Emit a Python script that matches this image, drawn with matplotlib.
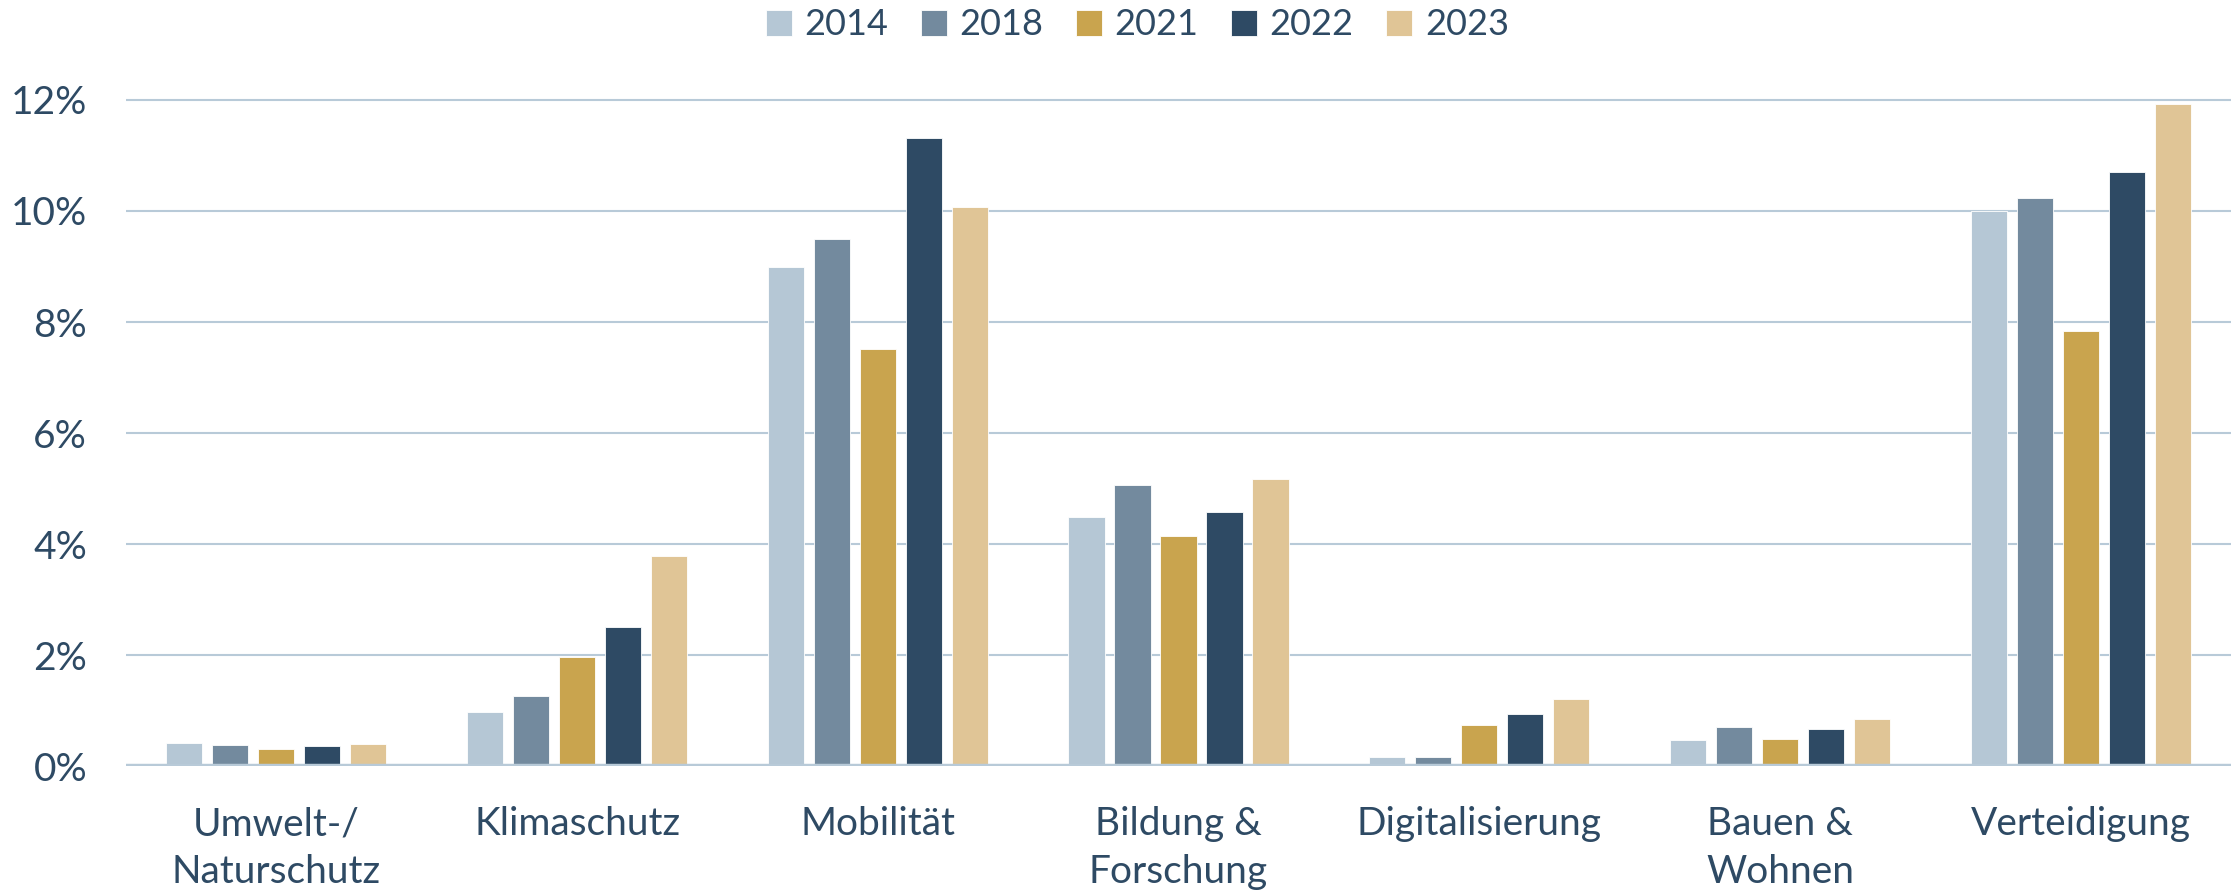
import numpy as np
import matplotlib.pyplot as plt

plt.rcParams['font.family'] = ['Lato', 'DejaVu Sans']

categories = ['Umwelt-/\nNaturschutz', 'Klimaschutz', 'Mobilität', 'Bildung &\nForschung',
              'Digitalisierung', 'Bauen &\nWohnen', 'Verteidigung']
years = ['2014', '2018', '2021', '2022', '2023']

v2014 = [0.41, 0.97, 8.99, 4.48, 0.16, 0.46, 10.00]
v2018 = [0.37, 1.27, 9.50, 5.07, 0.16, 0.70, 10.24]
v2021 = [0.30, 1.96, 7.52, 4.15, 0.74, 0.48, 7.83]
v2022 = [0.36, 2.50, 11.31, 4.58, 0.94, 0.67, 10.70]
v2023 = [0.39, 3.78, 10.07, 5.18, 1.20, 0.84, 11.93]

series = [v2014, v2018, v2021, v2022, v2023]
colors = ['#B5C7D5', '#738A9E', '#C9A44E', '#2E4A64', '#E0C596']
text_col = '#2E4A64'
grid_col = '#B8CAD8'

fig = plt.figure(figsize=(22.39, 8.93), dpi=100)
ax = fig.add_axes([0.0563, 0.1422, 0.9401, 0.7769])

x = np.arange(len(categories))
pitch = 0.153
width = 0.12
for i, (vals, col, yr) in enumerate(zip(series, colors, years)):
    ax.bar(x + (i - 2) * pitch, vals, width, color=col, label=yr,
           edgecolor='white', linewidth=0.6, zorder=3)

ax.set_xlim(-0.5, 6.5)
ax.set_ylim(0, 12.5)
ax.set_yticks(np.arange(0, 13, 2))
ax.set_yticklabels([f'{t}%' for t in range(0, 13, 2)])
ax.set_xticks(x)
ax.set_xticklabels(categories, linespacing=1.42)

for y in range(2, 13, 2):
    ax.axhline(y, color=grid_col, linewidth=1.5, zorder=1)
ax.axhline(0, color=grid_col, linewidth=3.2, zorder=4)

for s in ax.spines.values():
    s.set_visible(False)
ax.tick_params(axis='both', length=0, colors=text_col, labelsize=28)
ax.tick_params(axis='x', pad=29)
ax.tick_params(axis='y', pad=28)

fig.legend(loc='upper center', bbox_to_anchor=(0.508, 1.015), ncol=5, frameon=False,
           fontsize=26, labelcolor=text_col, handlelength=0.72, handleheight=0.72,
           handletextpad=0.35, columnspacing=0.9, borderaxespad=0.2)

fig.savefig('out.png', dpi=100)
